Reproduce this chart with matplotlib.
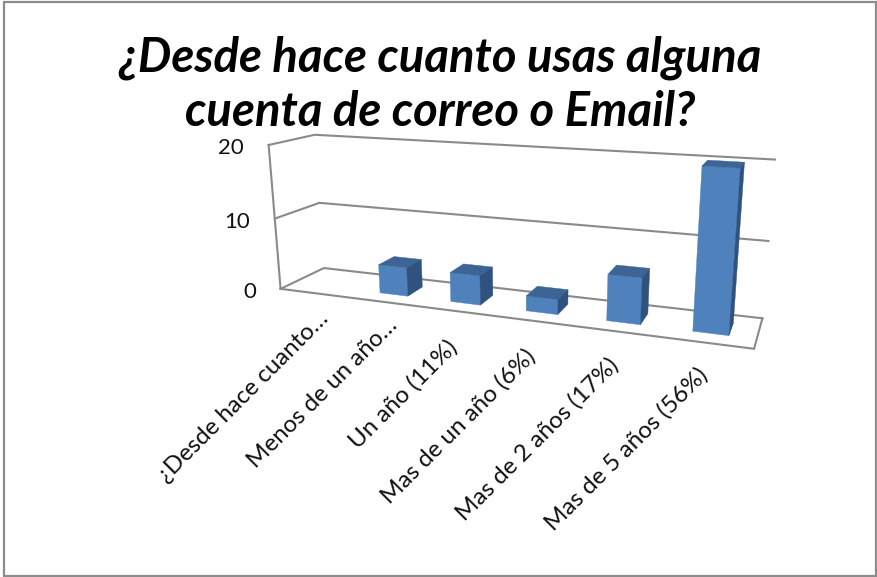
import numpy as np
import matplotlib
matplotlib.use("Agg")
import matplotlib.pyplot as plt
from matplotlib.patches import Polygon, Rectangle

title_lines = ["¿Desde hace cuanto usas alguna", "cuenta de correo o Email?"]
categories = ["¿Desde hace cuanto…", "Menos de un año…", "Un año (11%)",
              "Mas de un año (6%)", "Mas de 2 años (17%)", "Mas de 5 años (56%)"]
values = [0, 4, 4, 2, 6, 20]
y_ticks = [0, 10, 20]

FRONT, TOP, SIDE = "#4F81BD", "#3C6494", "#2F527E"
GRID = "#8A8A8A"
FONT = "Lato"

# camera calibration: (category, depth, value) -> reference pixel
calib = [
    ((0, 0, 20), (268, 145)), ((0, 0, 10), (275, 218)), ((0, 0, 0), (281, 289)),
    ((0, 1, 20), (315, 135)), ((0, 1, 10), (320, 203)), ((0, 1, 0), (323, 268)),
    ((6, 1, 20), (775, 159)), ((6, 1, 10), (769, 241)), ((6, 1, 0), (762, 318)),
    ((6, 0, 0), (754, 349)),
    ((1.3, .3, 0), (380, 293)), ((1.7, .3, 0), (408, 296)),
    ((5.3, .3, 0), (693, 331)), ((5.7, .3, 0), (729, 336)),
    ((5.3, .3, 20), (702, 166)), ((5.7, .3, 20), (740, 168)),
    ((5.3, .7, 20), (708, 160)), ((5.7, .7, 20), (744, 163)),
]
A = []
for (c, d, val), (px, py) in calib:
    X = [c, d, val, 1]
    A.append(X + [0, 0, 0, 0] + [-px * k for k in X])
    A.append([0, 0, 0, 0] + X + [-py * k for k in X])
P = np.linalg.svd(np.array(A, float))[2][-1].reshape(3, 4)


def proj(c, d, val):
    h = P @ np.array([c, d, val, 1.0])
    return h[0] / h[2], h[1] / h[2]


fig = plt.figure(figsize=(8.78, 5.77), dpi=100, facecolor="white")
ax = fig.add_axes([0, 0, 1, 1])
ax.set_xlim(0, 878)
ax.set_ylim(577, 0)
ax.axis("off")

ax.add_patch(Rectangle((4, 1.5), 872, 574.5, fill=False, ec="#8C8C8C", lw=1.6))


def line(*pts):
    xy = np.array([proj(*p) for p in pts])
    ax.plot(xy[:, 0], xy[:, 1], color=GRID, lw=1.5, solid_joinstyle="miter", zorder=1)


n = len(categories)
top = max(y_ticks)
for t in y_ticks:
    line((0, 0, t), (0, 1, t), (n, 1, t))
line((0, 0, 0), (0, 0, top))
line((0, 0, 0), (n, 0, 0), (n, 1, 0))

for t in y_ticks:
    x, y = proj(0, 0, t)
    ax.text(x - 24.5, y + 3, str(t), ha="right", va="center", family=FONT, fontsize=16, color="#111111")

for i, lab in enumerate(categories):
    x, y = proj(i + 0.5, 0, 0)
    shift = (0, 0) if i < 2 else (-12, 14)
    ax.text(x + 12 - 0.5 * i + shift[0], y + 22 - 1.5 * i + shift[1], lab, rotation=45,
            rotation_mode="anchor", ha="right", va="center",
            family=FONT, fontsize=17.4, color="#111111")

W, D0, D1 = 0.4, 0.3, 0.7
for i, val in enumerate(values):
    if val == 0:
        continue
    a, b = i + 0.5 - W / 2, i + 0.5 + W / 2
    faces = [
        ([(a, D0, 0), (b, D0, 0), (b, D0, val), (a, D0, val)], FRONT),
        ([(a, D0, val), (b, D0, val), (b, D1, val), (a, D1, val)], TOP),
        ([(b, D0, 0), (b, D1, 0), (b, D1, val), (b, D0, val)], SIDE),
    ]
    for pts, col in faces:
        ax.add_patch(Polygon([proj(*p) for p in pts], closed=True, fc=col, ec=col, lw=0.3, zorder=3))

for k, s in enumerate(title_lines):
    ax.text(440, 71 + 55 * k, s, ha="center", va="baseline", family=FONT, fontweight="bold",
            fontstyle="italic", fontsize=34, color="black")

fig.savefig("out.png", dpi=100)
